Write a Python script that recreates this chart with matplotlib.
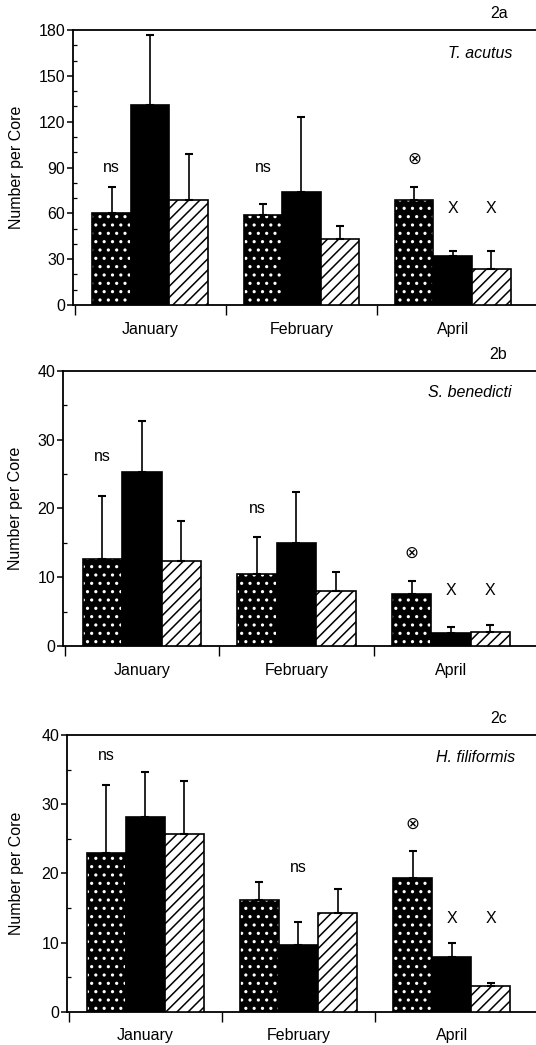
import matplotlib
matplotlib.use("Agg")
import matplotlib.pyplot as plt
import numpy as np

plt.rcParams['font.family'] = ['Liberation Sans', 'DejaVu Sans']
plt.rcParams['hatch.linewidth'] = 1.1

months = ["January", "February", "April"]
panel_tags = ["2a", "2b", "2c"]
species = ["T. acutus", "S. benedicti", "H. filiformis"]
y_max = [180, 40, 40]
y_step = [30, 10, 10]
y_minor = [10, 5, 5]

# mean number per core: dotted, black, hatched bars, per month
dotted_vals = [[60, 59, 69], [12.6, 10.5, 7.6], [23.0, 16.1, 19.3]]
dotted_err = [[17, 7, 8], [9.2, 5.3, 1.8], [9.7, 2.7, 4.0]]
black_vals = [[131, 74, 32], [25.3, 15.0, 1.85], [28.2, 9.7, 7.9]]
black_err = [[46, 49, 3.5], [7.4, 7.4, 0.95], [6.5, 3.2, 2.1]]
hatch_vals = [[69, 43, 23.5], [12.4, 8.0, 2.1], [25.7, 14.2, 3.7]]
hatch_err = [[30, 9, 12], [5.7, 2.75, 0.95], [7.7, 3.5, 0.4]]

# significance marks: (month index, bar offset index, y value)
ns_marks = [[(0, -1, 90), (1, -1, 90)],
            [(0, -1, 27.6), (1, -1, 20)],
            [(0, -1, 37), (1, 0, 20.8)]]
otimes_y = [95.5, 13.6, 27.1]
x_y = [63, 8.0, 13.5]

# axes boxes in pixels: left, top, right, bottom (y=0 line)
boxes = [(73, 30, 536, 305), (63, 370.7, 536, 646), (67, 735, 536, 1011.7)]
label_x = [-0.106, -0.085, -0.092]
species_pos = [(0.948, 0.913), (0.949, 0.919), (0.955, 0.92)]

W, H = 536, 1045
fig = plt.figure(figsize=(W / 100, H / 100), dpi=100)

width = 0.255
x = np.arange(len(months))
fs = 11.5

for p in range(3):
    l, t, r, b = boxes[p]
    ax = fig.add_axes([l / W, 1 - b / H, (r - l) / W, (b - t) / H])

    # dotted bars: black with white dots
    ax.bar(x - width, dotted_vals[p], width, color='black', edgecolor='white',
           hatch='..', linewidth=0, zorder=2)
    ax.bar(x - width, dotted_vals[p], width, fill=False, edgecolor='black',
           linewidth=1.2, zorder=3)
    ax.bar(x, black_vals[p], width, color='black', edgecolor='black',
           linewidth=1.2, zorder=3)
    ax.bar(x + width, hatch_vals[p], width, color='white', edgecolor='black',
           hatch='///', linewidth=1.2, zorder=3)

    for off, vals, errs in [(-width, dotted_vals[p], dotted_err[p]),
                            (0, black_vals[p], black_err[p]),
                            (width, hatch_vals[p], hatch_err[p])]:
        ax.errorbar(x + off, vals, yerr=[np.zeros(len(vals)), errs], fmt='none',
                    ecolor='black', elinewidth=1.2, capsize=3, capthick=1.5,
                    zorder=4)

    for m, o, yy in ns_marks[p]:
        ax.text(x[m] + o * width, yy, "ns", ha='center', va='center', fontsize=fs)
    ax.text(x[2] - width, otimes_y[p], "\u2297", ha='center', va='center',
            fontsize=12, family=['DejaVu Sans'])
    ax.text(x[2], x_y[p], "X", ha='center', va='center', fontsize=fs)
    ax.text(x[2] + width, x_y[p], "X", ha='center', va='center', fontsize=fs)

    ax.set_xlim(-0.51, 2.55)
    ax.set_ylim(0, y_max[p])
    ax.set_yticks(np.arange(0, y_max[p] + 1, y_step[p]))
    ax.set_yticks(np.arange(0, y_max[p] + 1, y_minor[p]), minor=True)
    ax.tick_params(axis='y', which='major', direction='out', length=4, width=1.1,
                   pad=1.5, labelsize=fs)
    ax.tick_params(axis='y', which='minor', direction='in', length=3, width=0.9)

    ax.set_xticks(x)
    ax.set_xticklabels(months)
    ax.set_xticks([-0.5, 0.5, 1.5], minor=True)
    ax.tick_params(axis='x', which='major', length=0, pad=12, labelsize=fs)
    ax.tick_params(axis='x', which='minor', direction='out', length=7, width=1.0)

    for s in ['left', 'top', 'bottom']:
        ax.spines[s].set_linewidth(1.3)
    ax.spines['right'].set_visible(False)

    ax.set_ylabel("Number per Core", fontsize=fs)
    ax.yaxis.set_label_coords(label_x[p], 0.5)

    sx, sy = species_pos[p]
    ax.text(sx, sy, species[p], transform=ax.transAxes, ha='right', va='center',
            fontsize=fs, style='italic')
    ax.text(0.92, 1.06, panel_tags[p], transform=ax.transAxes, ha='center',
            va='center', fontsize=fs)

fig.savefig("out.png", dpi=100)
